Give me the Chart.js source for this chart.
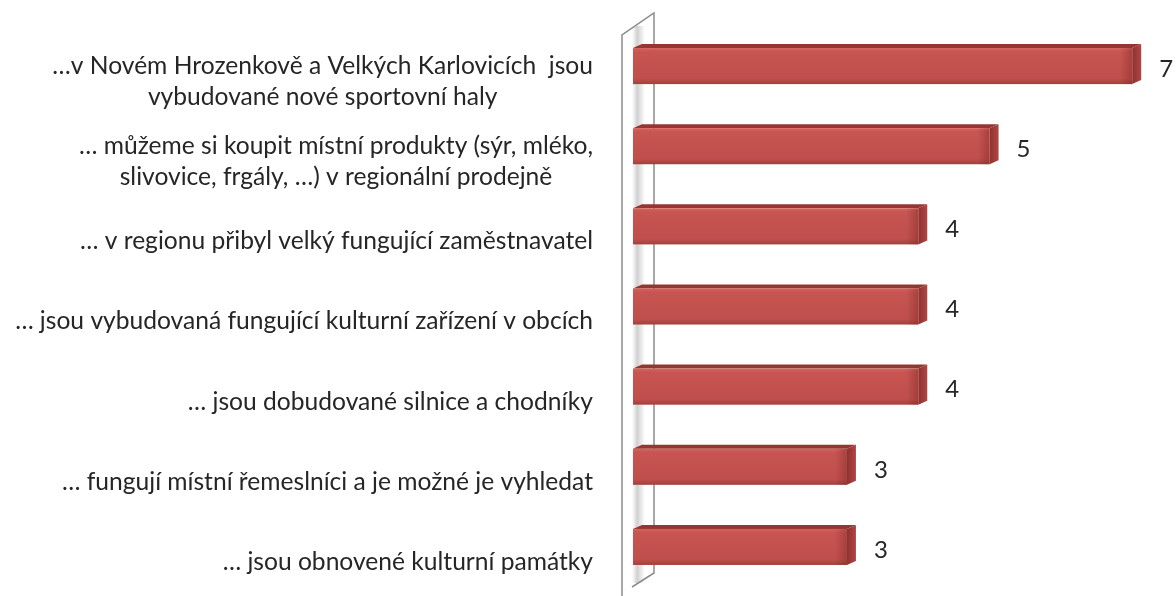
<!DOCTYPE html>
<html>
<head>
<meta charset="utf-8">
<script src="https://cdn.jsdelivr.net/npm/chart.js@4/dist/chart.umd.min.js"></script>
<style>
  html, body { margin: 0; padding: 0; background: #fff; }
  #wrap { width: 1176px; height: 596px; }
</style>
</head>
<body>
<div id="wrap"><canvas id="barChart" width="1176" height="596"></canvas></div>
<script>
const categories = [
    ['…v Novém Hrozenkově a Velkých Karlovicích  jsou', 'vybudované nové sportovní haly'],
    ['… můžeme si koupit místní produkty (sýr, mléko,', 'slivovice, frgály, …) v regionální prodejně'],
    '… v regionu přibyl velký fungující zaměstnavatel',
    '… jsou vybudovaná fungující kulturní zařízení v obcích',
    '… jsou dobudované silnice a chodníky',
    '… fungují místní řemeslníci a je možné je vyhledat',
    '… jsou obnovené kulturní památky'
];
const values = [7, 5, 4, 4, 4, 3, 3];

const FONT = 'Lato, "Open Sans", sans-serif';
const TEXT = '#262626';
const DX = 9, DY = 4;

// slanted back wall on the left of the category axis
const wallPlugin = {
    id: 'wall',
    beforeDatasetsDraw(chart) {
        const ctx = chart.ctx;
        const ca = chart.chartArea;
        const l = ca.left - 11, r = ca.left + 21;
        ctx.save();
        // soft shading inside the wall
        const g = ctx.createLinearGradient(ca.left - 1, 0, ca.left + 12, 0);
        g.addColorStop(0, 'rgba(160,160,160,0)');
        g.addColorStop(0.4, 'rgba(150,150,150,0.45)');
        g.addColorStop(1, 'rgba(160,160,160,0)');
        ctx.fillStyle = g;
        ctx.fillRect(ca.left - 1, ca.top, 13, ca.bottom - ca.top - 4);

        ctx.strokeStyle = '#8c8c8c';
        ctx.lineWidth = 1.5;
        ctx.beginPath();
        ctx.moveTo(l, chart.height);
        ctx.lineTo(l, ca.top + 9);
        ctx.lineTo(r, ca.top - 13);
        ctx.lineTo(r, ca.bottom - 14);
        ctx.lineTo(ca.left - 1, ca.bottom);
        ctx.stroke();
        ctx.restore();
    }
};

// 3D looking bars drawn from the bar elements' geometry
const bars3dPlugin = {
    id: 'bars3d',
    afterDatasetsDraw(chart) {
        const ctx = chart.ctx;
        const meta = chart.getDatasetMeta(0);
        ctx.save();
        meta.data.forEach((bar) => {
            const h = bar.height;
            const top = bar.y - h / 2, bottom = bar.y + h / 2;
            const left = bar.base, right = bar.x;

            // top face
            ctx.fillStyle = '#933634';
            ctx.beginPath();
            ctx.moveTo(left, top);
            ctx.lineTo(left + DX, top - DY);
            ctx.lineTo(right + DX, top - DY);
            ctx.lineTo(right, top);
            ctx.closePath();
            ctx.fill();

            // side face
            const sg = ctx.createLinearGradient(right, 0, right + DX, 0);
            sg.addColorStop(0, '#8e3230');
            sg.addColorStop(1, '#b04644');
            ctx.fillStyle = sg;
            ctx.beginPath();
            ctx.moveTo(right, top);
            ctx.lineTo(right + DX, top - DY);
            ctx.lineTo(right + DX, bottom - DY);
            ctx.lineTo(right, bottom);
            ctx.closePath();
            ctx.fill();

            // front face
            const fg = ctx.createLinearGradient(0, top, 0, bottom);
            fg.addColorStop(0, '#d8625e');
            fg.addColorStop(0.1, '#c75552');
            fg.addColorStop(0.85, '#bf4f4c');
            fg.addColorStop(1, '#a0403d');
            ctx.fillStyle = fg;
            ctx.fillRect(left, top, right - left, h);

            // darker bevel at the end of the bar
            const eg = ctx.createLinearGradient(right - 12, 0, right, 0);
            eg.addColorStop(0, 'rgba(120,35,33,0)');
            eg.addColorStop(1, 'rgba(120,35,33,0.4)');
            ctx.fillStyle = eg;
            ctx.fillRect(right - 12, top, 12, h);
        });

        // value labels
        ctx.fillStyle = TEXT;
        ctx.font = '24px ' + FONT;
        ctx.textAlign = 'center';
        ctx.textBaseline = 'middle';
        meta.data.forEach((bar, i) => {
            ctx.fillText(String(values[i]), bar.x + 34, bar.y + 3);
        });
        ctx.restore();
    }
};

// category labels: block right aligned, lines centered within the block
const labelsPlugin = {
    id: 'catLabels',
    afterDraw(chart) {
        const ctx = chart.ctx;
        const yScale = chart.scales.y;
        ctx.save();
        ctx.fillStyle = TEXT;
        ctx.font = '24.6px ' + FONT;
        ctx.textAlign = 'center';
        ctx.textBaseline = 'middle';
        const rightX = 593;
        const lineH = 31;
        categories.forEach((c, i) => {
            const lines = Array.isArray(c) ? c : [c];
            const blockW = Math.max(...lines.map(t => ctx.measureText(t).width));
            const cy = yScale.getPixelForValue(i) + 15;
            lines.forEach((t, j) => {
                const ly = cy + (j - (lines.length - 1) / 2) * lineH;
                ctx.fillText(t, rightX - blockW / 2, ly);
            });
        });
        ctx.restore();
    }
};

new Chart(document.getElementById('barChart'), {
    type: 'bar',
    data: {
        labels: categories,
        datasets: [{
            data: values,
            backgroundColor: 'rgba(0,0,0,0)',
            borderWidth: 0,
            barPercentage: 0.45,
            categoryPercentage: 1
        }]
    },
    options: {
        indexAxis: 'y',
        responsive: false,
        animation: false,
        layout: {
            padding: { left: 633, right: 1, top: 26, bottom: 9 }
        },
        plugins: {
            legend: { display: false },
            tooltip: { enabled: false }
        },
        scales: {
            x: { display: false, min: 0, max: 7.6 },
            y: { display: false }
        }
    },
    plugins: [wallPlugin, bars3dPlugin, labelsPlugin]
});
</script>
</body>
</html>
